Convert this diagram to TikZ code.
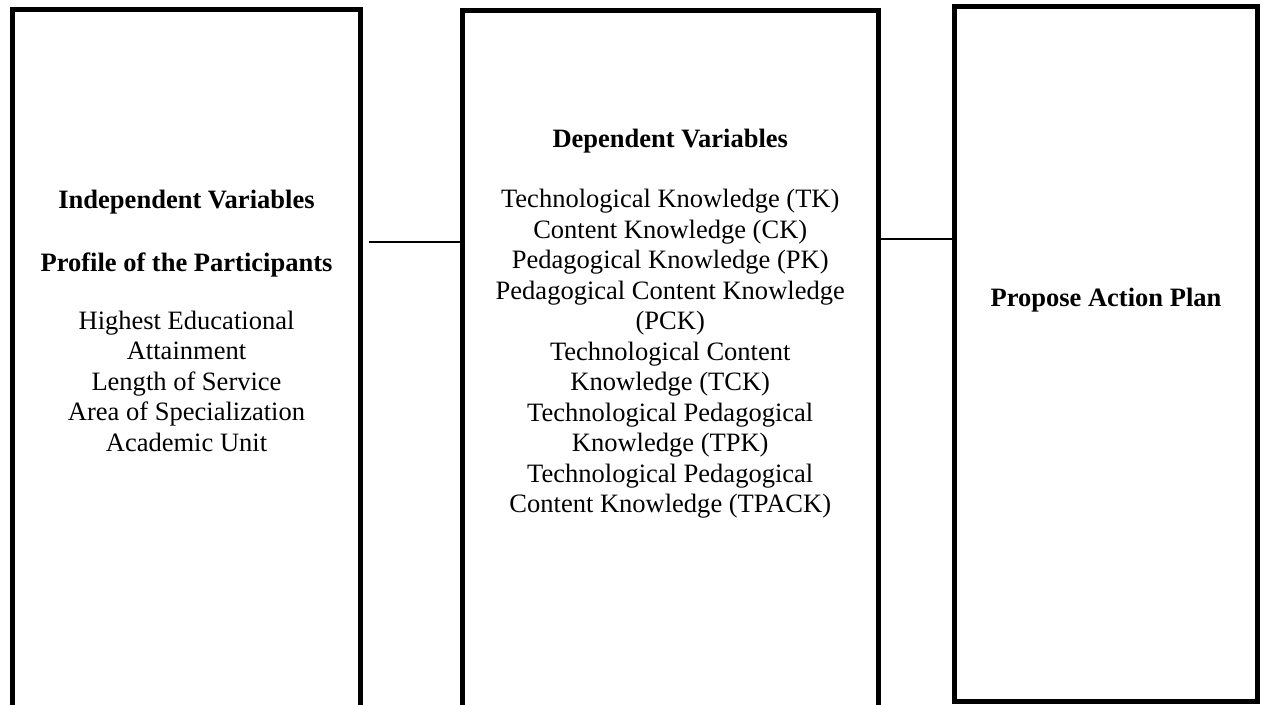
\documentclass[tikz,border=0pt]{standalone}
\usepackage{fontspec}
\setmainfont{Liberation Serif}
\newlength\pxu
\setlength\pxu{0.4525pt}

\begin{document}
\begin{tikzpicture}[x=\pxu,y=-\pxu,
    varbox/.style={draw,line width=5*\pxu,line join=miter,inner sep=0pt},
    link/.style={draw,line width=2*\pxu},
    txt/.style={font=\fontsize{12}{13.8}\selectfont,align=center},
    head/.style={font=\fontsize{12}{13.8}\selectfont\bfseries}]
  \useasboundingbox (0,0) rectangle (1263,704);
  \clip (0,0) rectangle (1263,704);

  \node[varbox,minimum width=348*\pxu,minimum height=710.5*\pxu] (indep) at (186.5,364.75) {};
  \node[varbox,minimum width=416.5*\pxu,minimum height=710*\pxu] (dep) at (670.25,365) {};
  \node[varbox,minimum width=303*\pxu,minimum height=695*\pxu] (action) at (1106,354) {};

  \node[head] (indeptitle) at (186.5,202) {Independent Variables};
  \node[head] (profile) at (186.5,265) {Profile of the Participants};
  \node[txt] (profilelist) at (186.5,381) {Highest Educational\\Attainment\\Length of Service\\Area of Specialization\\Academic Unit};

  \node[head] (deptitle) at (670.25,141) {Dependent Variables};
  \node[txt] (deplist) at (670.25,354) {Technological Knowledge (TK)\\Content Knowledge (CK)\\Pedagogical Knowledge (PK)\\Pedagogical Content Knowledge\\(PCK)\\Technological Content\\Knowledge (TCK)\\Technological Pedagogical\\Knowledge (TPK)\\Technological Pedagogical\\Content Knowledge (TPACK)};

  \node[head] (plan) at (1106,300) {Propose Action Plan};

  \coordinate (lstart) at (369,241.5);
  \coordinate (rlevel) at (0,239);
  \draw[link] (lstart) -- (lstart -| dep.west);
  \draw[link] (dep.east |- rlevel) -- (action.west |- rlevel);
\end{tikzpicture}
\end{document}
